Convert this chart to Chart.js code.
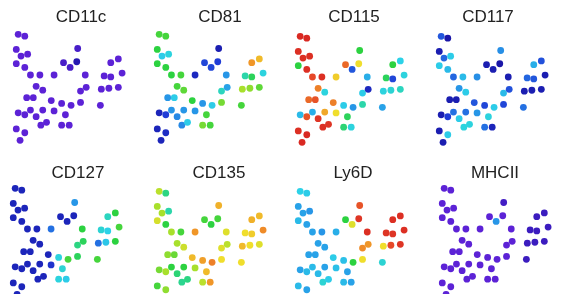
<!DOCTYPE html>
<html>
<head>
<meta charset="utf-8">
<script src="https://cdn.jsdelivr.net/npm/chart.js@4.4.0/dist/chart.umd.min.js"></script>
<style>
  html, body { margin: 0; padding: 0; background: #fff; overflow: hidden; }
  body { width: 570px; height: 294px; position: relative; }
  canvas { position: absolute; }
  .title {
    position: absolute;
    font-family: "Liberation Sans", Arial, sans-serif;
    font-size: 17px;
    line-height: 17px;
    color: #222;
    transform: translateX(-50%);
    white-space: nowrap;
  }
</style>
</head>
<body>
<script>
// cell embedding (same for every panel)
const tsneX = [15,22,13,18,25,13,22,78,63,70,77,113,121,28,38,53,86,106,113,125,34,41,81,87,103,111,121,24,31,50,61,71,81,102,15,22,28,34,41,53,65,39,45,61,69,13,22,17];
const tsneY = [32,34,48,55,53,63,67,47,62,67,61,62,58,75,75,75,75,76,77,73,87,91,92,88,90,89,88,99,99,102,105,107,104,107,115,117,112,119,112,113,117,128,125,128,128,132,136,144];

const markers = ['CD11c', 'CD81', 'CD115', 'CD117', 'CD127', 'CD135', 'Ly6D', 'MHCII'];

// scaled expression per cell (0 = low, 1 = high)
const cd11c = [0,0,0,0,0,0,0,0.03,0.03,0.03,0.08,0,0,0,0,0,0,0,0,0,0,0,0,0,0,0,0,0,0,0,0,0,0,0,0,0,0,0,0,0,0,0,0,0,0,0,0,0];
const cd81 = [0.62,0.62,0.60,0.45,0.47,0.60,0.60,0.12,0.22,0.22,0.20,0.86,0.82,0.60,0.62,0.15,0.36,0.52,0.58,0.47,0.62,0.64,0.50,0.38,0.70,0.68,0.64,0.36,0.45,0.60,0.36,0.45,0.66,0.62,0.14,0.20,0.36,0.34,0.36,0.36,0.62,0.34,0.45,0.66,0.62,0.14,0.16,0.14];
const cd115 = [0.98,0.98,0.97,0.97,0.97,0.60,0.97,0.60,0.90,0.25,0.78,0.60,0.46,0.93,0.97,0.80,0.40,0.58,0.22,0.47,0.88,0.47,0.45,0.15,0.47,0.48,0.50,0.90,0.92,0.88,0.45,0.36,0.52,0.38,0.42,0.92,0.40,0.96,0.84,0.78,0.58,0.97,0.96,0.56,0.47,0.97,0.98,0.98];
const cd117 = [0.25,0.10,0.12,0.28,0.45,0.45,0.42,0.35,0.12,0.12,0.10,0.40,0.24,0.28,0.42,0.35,0.12,0.28,0.25,0.12,0.36,0.45,0.42,0.24,0.12,0.12,0.12,0.12,0.12,0.25,0.22,0.45,0.22,0.30,0.12,0.20,0.30,0.45,0.30,0.36,0.47,0.47,0.47,0.30,0.14,0.12,0.45,0.12];
const cd127 = [0.14,0.14,0.14,0.14,0.14,0.14,0.14,0.36,0.14,0.14,0.14,0.50,0.60,0.14,0.14,0.30,0.60,0.48,0.46,0.62,0.14,0.14,0.55,0.58,0.30,0.44,0.60,0.14,0.14,0.14,0.47,0.62,0.58,0.62,0.14,0.14,0.14,0.14,0.14,0.18,0.48,0.14,0.14,0.47,0.45,0.14,0.14,0.14];
const cd135 = [0.72,0.55,0.70,0.70,0.52,0.75,0.60,0.83,0.62,0.60,0.62,0.83,0.82,0.70,0.62,0.86,0.76,0.78,0.80,0.87,0.70,0.74,0.76,0.72,0.82,0.78,0.76,0.68,0.65,0.82,0.85,0.88,0.78,0.78,0.66,0.70,0.60,0.56,0.60,0.70,0.82,0.54,0.55,0.72,0.86,0.62,0.68,0.62];
const ly6d = [0.46,0.45,0.38,0.38,0.36,0.42,0.38,0.92,0.60,0.76,0.96,0.97,0.97,0.38,0.36,0.40,0.97,0.96,0.96,0.97,0.38,0.38,0.87,0.86,0.78,0.93,0.96,0.38,0.38,0.45,0.43,0.60,0.78,0.48,0.38,0.42,0.42,0.42,0.38,0.43,0.38,0.48,0.45,0.42,0.38,0.42,0.38,0.40];
const mhcii = [0,0,0,0,0,0,0,0.04,0,0.36,0,0.05,0.05,0,0,0,0,0.05,0.05,0.05,0,0,0,0,0.05,0.05,0.05,0,0,0,0,0,0,0.05,0,0,0,0,0,0,0,0,0,0,0,0,0,0];

const values = [cd11c, cd81, cd115, cd117, cd127, cd135, ly6d, mhcii];

// panel placement (left, top) and title placement (center x, top)
const panelPos = [[0,0],[141,0],[282,2],[423,2],[-3,154],[141,157],[282,157],[426,154]];
const titlePos = [[81,8],[220,8],[354,8],[488,8],[78,164],[219,164],[353,164],[495,164]];

// jet-like colour ramp, starting at violet
const ramp = [
  [0.00, [92,34,214]],
  [0.10, [26,22,168]],
  [0.20, [32,60,214]],
  [0.30, [36,112,226]],
  [0.38, [40,162,232]],
  [0.46, [44,210,232]],
  [0.52, [44,214,170]],
  [0.60, [44,210,64]],
  [0.70, [168,224,44]],
  [0.78, [240,222,44]],
  [0.86, [240,150,40]],
  [0.93, [230,72,40]],
  [1.00, [212,28,32]]
];

function colorFor(v) {
  for (let i = 1; i < ramp.length; i++) {
    if (v <= ramp[i][0]) {
      const a = ramp[i - 1], b = ramp[i];
      const t = (v - a[0]) / (b[0] - a[0]);
      const c = a[1].map((ch, k) => Math.round(ch + (b[1][k] - ch) * t));
      return `rgb(${c[0]},${c[1]},${c[2]})`;
    }
  }
  const last = ramp[ramp.length - 1][1];
  return `rgb(${last[0]},${last[1]},${last[2]})`;
}

const points = tsneX.map((x, i) => ({ x: x, y: tsneY[i] }));

markers.forEach((name, p) => {
  const canvas = document.createElement('canvas');
  canvas.width = 145;
  canvas.height = 150;
  canvas.style.left = panelPos[p][0] + 'px';
  canvas.style.top = panelPos[p][1] + 'px';
  document.body.appendChild(canvas);

  const title = document.createElement('div');
  title.className = 'title';
  title.textContent = name;
  title.style.left = titlePos[p][0] + 'px';
  title.style.top = titlePos[p][1] + 'px';
  document.body.appendChild(title);

  new Chart(canvas.getContext('2d'), {
    type: 'scatter',
    data: {
      datasets: [{
        label: name,
        data: points,
        pointBackgroundColor: values[p].map(colorFor),
        pointBorderWidth: 0,
        pointRadius: 3.4
      }]
    },
    options: {
      responsive: false,
      animation: false,
      devicePixelRatio: 1,
      layout: { padding: 0 },
      plugins: { legend: { display: false }, tooltip: { enabled: false } },
      scales: {
        x: { display: false, min: 0, max: 145 },
        y: { display: false, min: 0, max: 150, reverse: true }
      }
    }
  });
});
</script>
</body>
</html>
